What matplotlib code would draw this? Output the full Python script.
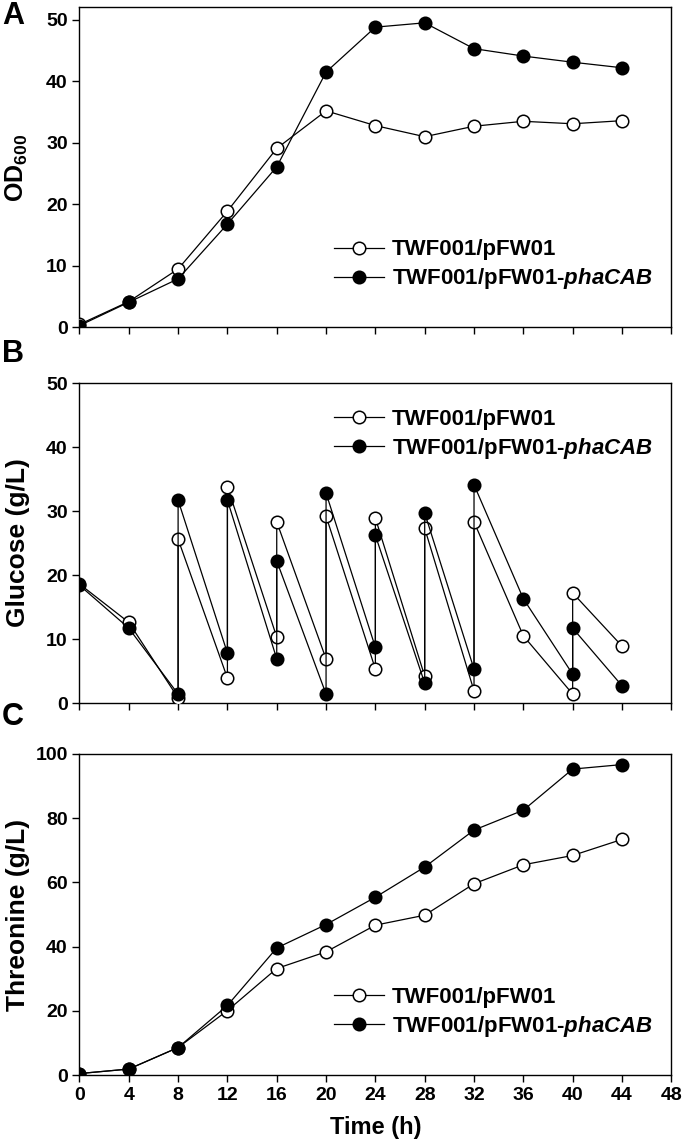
import matplotlib
matplotlib.use('Agg')
import matplotlib.pyplot as plt

plt.rcParams['font.family'] = ['Liberation Sans', 'DejaVu Sans']
plt.rcParams['font.weight'] = 'bold'
plt.rcParams['mathtext.fontset'] = 'custom'
plt.rcParams['mathtext.rm'] = 'Liberation Sans:bold'
plt.rcParams['mathtext.it'] = 'Liberation Sans:italic:bold'
plt.rcParams['mathtext.bf'] = 'Liberation Sans:bold'

# --- data ---
time = [0, 4, 8, 12, 16, 20, 24, 28, 32, 36, 40, 44]

od_ctrl = [0.5, 4.2, 9.5, 18.9, 29.1, 35.2, 32.8, 31.0, 32.7, 33.5, 33.1, 33.6]
od_pha = [0.3, 4.1, 7.9, 16.8, 26.1, 41.5, 48.8, 49.5, 45.3, 44.1, 43.1, 42.2]

# glucose: feeding points appear twice (before / after feed)
glc_t = [0, 4, 8, 8, 12, 12, 16, 16, 20, 20, 24, 24, 28, 28, 32, 32, 36, 40, 40, 44]
glc_ctrl = [18.6, 12.6, 0.8, 25.6, 3.9, 33.8, 10.3, 28.3, 6.9, 29.2,
            5.3, 28.9, 4.2, 27.3, 1.9, 28.3, 10.5, 1.4, 17.2, 8.9]
glc_pha = [18.4, 11.7, 1.4, 31.7, 7.8, 31.7, 6.9, 22.2, 1.4, 32.8,
           8.7, 26.2, 3.1, 29.7, 5.3, 34.1, 16.3, 4.5, 11.7, 2.7]

thr_ctrl = [0.5, 1.9, 8.6, 20.1, 33.2, 38.4, 46.7, 49.8, 59.6, 65.5, 68.4, 73.4]
thr_pha = [0.5, 1.9, 8.6, 21.7, 39.6, 46.9, 55.4, 64.8, 76.3, 82.5, 95.3, 96.7]

xticks = list(range(0, 49, 4))
lab_ctrl = 'TWF001/pFW01'
lab_pha = 'TWF001/pFW01-$\\mathit{phaCAB}$'

fig = plt.figure(figsize=(6.85, 11.45), dpi=100)
left, width = 0.116, 0.864
axA = fig.add_axes([left, 0.714, width, 0.2795])
axB = fig.add_axes([left, 0.386, width, 0.2795])
axC = fig.add_axes([left, 0.061, width, 0.2805])


def draw(ax, x, y1, y2):
    ax.plot(x, y1, '-o', color='black', mfc='white', mec='black', ms=9,
            lw=0.9, mew=1.1, label=lab_ctrl, zorder=3)
    ax.plot(x, y2, '-o', color='black', mfc='black', mec='black', ms=9,
            lw=0.9, mew=1.1, label=lab_pha, zorder=3)
    ax.set_xlim(0, 48)
    ax.set_xticks(xticks)
    ax.tick_params(direction='out', length=5, width=1, labelsize=14)
    for s in ax.spines.values():
        s.set_linewidth(1.0)
    for lbl in ax.get_yticklabels() + ax.get_xticklabels():
        lbl.set_fontweight('bold')


draw(axA, time, od_ctrl, od_pha)
axA.set_ylim(0, 52)
axA.set_yticks([0, 10, 20, 30, 40, 50])
axA.tick_params(axis='x', labelbottom=False)
axA.set_ylabel('OD$_{600}$', fontsize=18, fontweight='bold')

draw(axB, glc_t, glc_ctrl, glc_pha)
axB.set_ylim(0, 50)
axB.set_yticks([0, 10, 20, 30, 40, 50])
axB.tick_params(axis='x', labelbottom=False)
axB.set_ylabel('Glucose (g/L)', fontsize=19, fontweight='bold')

draw(axC, time, thr_ctrl, thr_pha)
axC.set_ylim(0, 100)
axC.set_yticks([0, 20, 40, 60, 80, 100])
axC.set_ylabel('Threonine (g/L)', fontsize=19, fontweight='bold')
axC.set_xlabel('Time (h)', fontsize=17, fontweight='bold', labelpad=9)

for ax, ly in [(axA, 0.194), (axB, 0.839), (axC, 0.193)]:
    ax.yaxis.set_label_coords(-0.083, 0.5)
    ax.legend(loc='center left', bbox_to_anchor=(0.43, ly), frameon=False,
              handlelength=2.25, handletextpad=0.35,
              labelspacing=0.27, borderpad=0, borderaxespad=0,
              prop={'weight': 'bold', 'size': 16})

fig.text(0.003, 0.986, 'A', fontsize=22, fontweight='bold', va='center')
fig.text(0.003, 0.691, 'B', fontsize=22, fontweight='bold', va='center')
fig.text(0.003, 0.374, 'C', fontsize=22, fontweight='bold', va='center')

fig.savefig('out.png', dpi=100)
